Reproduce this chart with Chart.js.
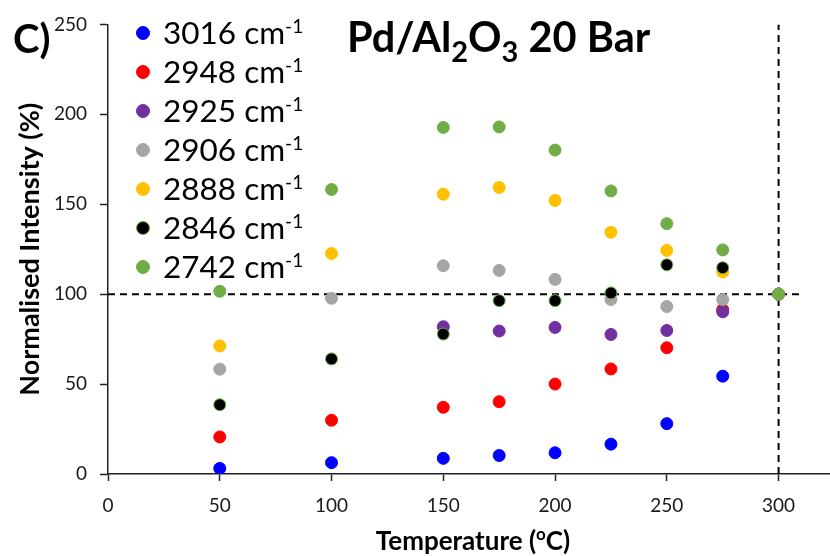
<!DOCTYPE html>
<html>
<head>
<meta charset="utf-8">
<title>Pd/Al2O3 20 Bar</title>
<script src="https://cdn.jsdelivr.net/npm/chart.js@4.4.1/dist/chart.umd.min.js"></script>
<style>
  html, body { margin: 0; padding: 0; background: #fff; }
  canvas { display: block; }
</style>
</head>
<body>
<canvas id="grafico" width="830" height="556"></canvas>
<script>
// temperatures (oC) and normalised intensity (%) for each band
var temps = [50, 100, 150, 175, 200, 225, 250, 275, 300];
var bands = ["3016", "2948", "2925", "2906", "2888", "2846", "2742"];

var int3016 = [3.1, 6.3, 8.7, 10.3, 11.8, 16.6, 28.0, 54.4, 100];
var int2948 = [20.6, 29.9, 37.1, 40.2, 50.0, 58.4, 70.2, 91.4, 100];
var int2925 = [null, null, 81.9, 79.5, 81.5, 77.6, 79.8, 90.2, 100];
var int2906 = [58.3, 97.7, 115.8, 113.2, 108.2, 97.0, 93.1, 97.0, 100];
var int2888 = [71.2, 122.6, 155.6, 159.3, 152.1, 134.4, 124.3, 112.3, 100];
var int2846 = [38.5, 64.0, 77.8, 96.4, 96.4, 100.7, 116.3, 114.7, 100];
var int2742 = [101.6, 158.2, 192.7, 193.0, 180.1, 157.4, 139.2, 124.6, 100];

var xTicks = [0, 50, 100, 150, 200, 250, 300];
var yTicks = [0, 50, 100, 150, 200, 250];

// reference lines at 100 % and 300 oC
var lineH = [{x: 0, y: 100}, {x: 311, y: 100}];
var lineV = [{x: 300, y: 0}, {x: 300, y: 250}];

var series = [int3016, int2948, int2925, int2906, int2888, int2846, int2742];
var colors = ['#0000FF', '#FF0000', '#7030A0', '#A5A5A5', '#FFC000', '#000000', '#70AD47'];
var edges  = ['#0000FF', '#FF0000', '#7030A0', '#A5A5A5', '#FFC000', '#70AD47', '#70AD47'];

var FONT = 'Lato';

function toPoints(ys) {
  var pts = [];
  ys.forEach(function (v, i) {
    if (v !== null) pts.push({x: temps[i], y: v});
  });
  return pts;
}

var datasets = series.map(function (ys, i) {
  return {
    label: bands[i] + ' cm-1',
    data: toPoints(ys),
    backgroundColor: colors[i],
    borderColor: edges[i],
    borderWidth: 1,
    pointRadius: 6,
    showLine: false,
    order: series.length - i
  };
});

function dashed(pts) {
  return {
    data: pts,
    showLine: true,
    borderColor: '#000',
    borderWidth: 2,
    borderDash: [7, 5],
    pointRadius: 0,
    fill: false,
    order: 100
  };
}
datasets.push(dashed(lineH));
datasets.push(dashed(lineV));

// draws text pieces one after another (for sub/superscripts)
function drawParts(ctx, parts, x, y, weight) {
  parts.forEach(function (p) {
    ctx.font = weight + ' ' + p.size + 'px ' + FONT;
    ctx.fillText(p.text, x, y + (p.dy || 0));
    x += ctx.measureText(p.text).width;
  });
  return x;
}

function partsWidth(ctx, parts, weight) {
  var w = 0;
  parts.forEach(function (p) {
    ctx.font = weight + ' ' + p.size + 'px ' + FONT;
    w += ctx.measureText(p.text).width;
  });
  return w;
}

var textPlugin = {
  id: 'textos',
  afterDraw: function (chart) {
    var ctx = chart.ctx;
    ctx.save();
    ctx.fillStyle = '#000';
    ctx.textAlign = 'left';
    ctx.textBaseline = 'alphabetic';

    // panel letter and title
    drawParts(ctx, [{text: 'C)', size: 40}], 13, 53, 'bold');
    drawParts(ctx, [
      {text: 'Pd/Al', size: 41.5},
      {text: '2', size: 29, dy: 10},
      {text: 'O', size: 41.5},
      {text: '3', size: 29, dy: 10},
      {text: ' 20 Bar', size: 41.5}
    ], 347, 52, 'bold');

    // x axis title
    var xt = [
      {text: 'Temperature (', size: 26},
      {text: 'o', size: 17, dy: -10},
      {text: 'C)', size: 26}
    ];
    var w = partsWidth(ctx, xt, 'bold');
    drawParts(ctx, xt, 473 - w / 2, 550, 'bold');

    // legend
    bands.forEach(function (b, i) {
      var cy = 33 + i * 39;
      ctx.beginPath();
      ctx.arc(143, cy, 6.5, 0, Math.PI * 2);
      ctx.fillStyle = colors[i];
      ctx.fill();
      ctx.lineWidth = 1;
      ctx.strokeStyle = edges[i];
      ctx.stroke();
      ctx.fillStyle = '#000';
      drawParts(ctx, [
        {text: b + ' cm', size: 31.5},
        {text: '-1', size: 19, dy: -11}
      ], 163, cy + 10.5, 'normal');
    });
    ctx.restore();
  }
};

var ctx = document.getElementById('grafico');

var grafico = new Chart(ctx, {
  type: 'scatter',
  data: { datasets: datasets },
  options: {
    responsive: false,
    devicePixelRatio: 1,
    animation: false,
    layout: { autoPadding: false, padding: { top: 22, right: 0, left: 0, bottom: 0 } },
    plugins: {
      legend: { display: false },
      tooltip: { enabled: false }
    },
    scales: {
      x: {
        type: 'linear',
        min: 0,
        max: 323,
        afterBuildTicks: function (axis) {
          axis.ticks = xTicks.map(function (v) { return {value: v}; });
        },
        afterFit: function (scale) {
          scale.height = 82;
          scale.paddingRight = 0;
        },
        grid: { display: true, drawOnChartArea: false, drawTicks: true, tickLength: 7, tickColor: '#222', tickWidth: 1.5 },
        border: { display: true, color: '#222', width: 1.5 },
        ticks: { font: { family: FONT, size: 19 }, color: '#1a1a1a', padding: 13, maxRotation: 0 }
      },
      y: {
        type: 'linear',
        min: 0,
        max: 250,
        afterBuildTicks: function (axis) {
          axis.ticks = yTicks.map(function (v) { return {value: v}; });
        },
        afterFit: function (scale) { scale.width = 108; },
        grid: { display: true, drawOnChartArea: false, drawTicks: true, tickLength: 8, tickColor: '#222', tickWidth: 1.5 },
        border: { display: true, color: '#222', width: 1.5 },
        ticks: { font: { family: FONT, size: 19 }, color: '#1a1a1a', padding: 13 },
        title: {
          display: true,
          text: 'Normalised Intensity (%)',
          font: { family: FONT, size: 27, weight: 'bold' },
          color: '#000',
          padding: { top: 14, bottom: 0 }
        }
      }
    }
  },
  plugins: [textPlugin]
});
</script>
</body>
</html>
